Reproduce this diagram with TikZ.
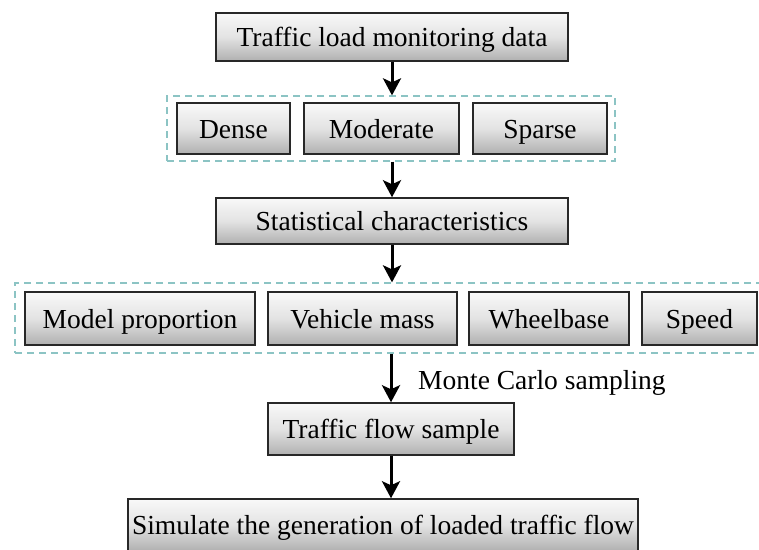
\documentclass[tikz,border=0pt]{standalone}
\usepackage{fontspec}
\setmainfont{Liberation Serif}
\usetikzlibrary{arrows.meta}
\definecolor{dashc}{RGB}{140,196,196}
\definecolor{edgec}{RGB}{40,40,40}
\tikzset{
  box/.style={draw=edgec, line width=1.5pt, top color=gray!5, bottom color=gray!62,
    middle color=gray!22, inner sep=0pt, font=\fontsize{27.5}{32}\selectfont,
    text height=19pt, text depth=0pt, anchor=center},
  grp/.style={draw=dashc, line width=1.3pt, dash pattern=on 7pt off 5pt, inner sep=0pt},
  flow/.style={line width=3pt, -{Stealth[length=17pt,width=18pt,inset=4pt]}},
  lbl/.style={font=\fontsize{27.5}{32}\selectfont, inner sep=0pt, anchor=west,
    text height=19pt, text depth=0pt}
}
\begin{document}
\begin{tikzpicture}[x=1pt,y=-1pt]
\useasboundingbox (0,0) rectangle (759,549);
% groups
\node[grp, minimum width=448pt, minimum height=65pt] (grp1) at (391,128.5) {};
\node[grp, minimum width=765pt, minimum height=70pt] (grp2) at (397.5,318) {};
% nodes
\node[box, minimum width=352pt, minimum height=48pt] (n1) at (392,37) {Traffic load monitoring data};
\node[box, minimum width=113pt, minimum height=51pt] (dense) at (233.5,128.5) {Dense};
\node[box, minimum width=155pt, minimum height=51pt] (mod) at (381.5,128.5) {Moderate};
\node[box, minimum width=134pt, minimum height=51pt] (sparse) at (540,128.5) {Sparse};
\node[box, minimum width=352pt, minimum height=46pt] (stat) at (392,221) {Statistical characteristics};
\node[box, minimum width=230pt, minimum height=53pt] (model) at (140,318.5) {Model proportion};
\node[box, minimum width=189pt, minimum height=53pt] (veh) at (362.5,318.5) {Vehicle mass};
\node[box, minimum width=160pt, minimum height=53pt] (wheel) at (549,318.5) {Wheelbase};
\node[box, minimum width=115pt, minimum height=53pt] (speed) at (699.5,318.5) {Speed};
\node[box, minimum width=246pt, minimum height=52pt] (flowS) at (391,429) {Traffic flow sample};
\node[box, minimum width=510pt, minimum height=52pt] (sim) at (383,525) {Simulate the generation of loaded traffic flow};
\node[lbl] (mc) at (418,380) {Monte Carlo sampling};
% connectors
\draw[flow] (n1.south) -- (n1.south |- grp1.north);
\draw[flow] (grp1.south -| stat.north) -- (stat.north);
\draw[flow] (stat.south) -- (stat.south |- grp2.north);
\draw[flow] (grp2.south -| flowS.north) -- (flowS.north);
\draw[flow] (flowS.south) -- (flowS.south |- sim.north);
\end{tikzpicture}
\end{document}
